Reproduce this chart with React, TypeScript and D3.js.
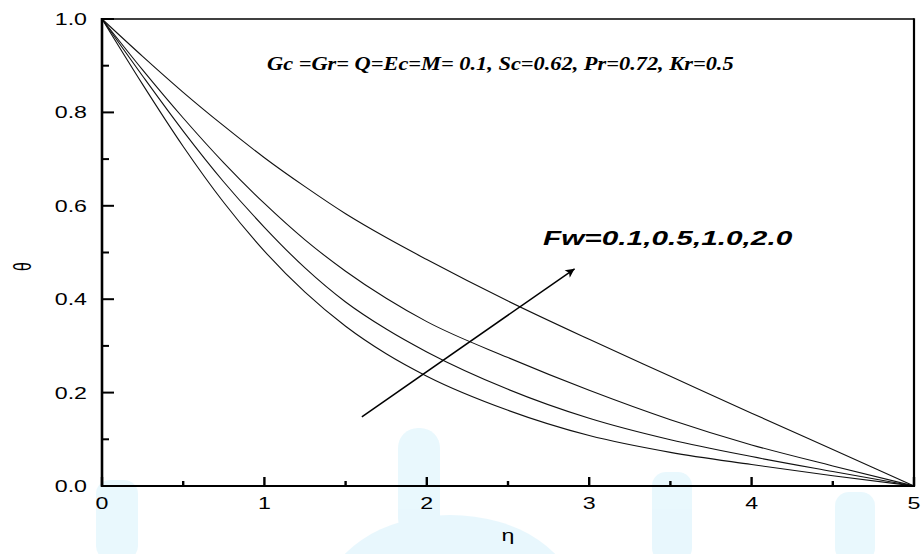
import React, { useEffect, useRef } from 'react';
import * as d3 from 'd3';

// eta samples and theta, one array per Fw value
const eta = [0, 0.25, 0.5, 0.75, 1, 1.25, 1.5, 1.75, 2, 2.5, 3, 3.5, 4, 4.5, 5];
const fw01 = [1, 0.86, 0.727, 0.607, 0.503, 0.415, 0.342, 0.283, 0.235, 0.162, 0.108, 0.072, 0.046, 0.022, 0];
const fw05 = [1, 0.878, 0.76, 0.651, 0.554, 0.467, 0.394, 0.336, 0.287, 0.207, 0.145, 0.099, 0.063, 0.031, 0];
const fw10 = [1, 0.891, 0.788, 0.692, 0.605, 0.527, 0.46, 0.402, 0.352, 0.275, 0.205, 0.142, 0.088, 0.043, 0];
const fw20 = [1, 0.92, 0.843, 0.771, 0.703, 0.641, 0.583, 0.532, 0.485, 0.396, 0.314, 0.235, 0.156, 0.078, 0];

const xTickLabels = ['0', '1', '2', '3', '4', '5'];
const yTickLabels = ['0.0', '0.2', '0.4', '0.6', '0.8', '1.0'];

const paramText = 'Gc =Gr= Q=Ec=M= 0.1, Sc=0.62, Pr=0.72, Kr=0.5';
const fwText = 'Fw=0.1,0.5,1.0,2.0';

const W = 923;
const H = 554;
const margin = { top: 19, right: 9, bottom: 68, left: 102 };
const SX = 1.45; // the figure is stretched sideways

export default function App() {
  const ref = useRef<SVGSVGElement>(null);

  useEffect(() => {
    const svg = d3.select(ref.current);
    svg.selectAll('*').remove();

    const x = d3.scaleLinear().domain([0, 5]).range([margin.left, W - margin.right]);
    const y = d3.scaleLinear().domain([0, 1]).range([H - margin.bottom, margin.top]);
    const [x0, x1] = x.range();
    const [y0, y1] = y.range();

    svg.append('rect').attr('width', W).attr('height', H).attr('fill', '#fff');

    // faint watermark behind the chart
    const wm = svg.append('g').attr('fill', '#b5e7fa').attr('opacity', 0.3);
    wm.append('ellipse').attr('cx', 450).attr('cy', 600).attr('rx', 125).attr('ry', 85);
    wm.append('rect').attr('x', 398).attr('y', 428).attr('width', 42).attr('height', 110).attr('rx', 20);
    wm.append('rect').attr('x', 96).attr('y', 480).attr('width', 42).attr('height', 80).attr('rx', 14);
    wm.append('rect').attr('x', 652).attr('y', 472).attr('width', 40).attr('height', 90).attr('rx', 14);
    wm.append('rect').attr('x', 835).attr('y', 492).attr('width', 40).attr('height', 70).attr('rx', 14);

    // curves
    const line = d3
      .line<number>()
      .x((_, i) => x(eta[i]))
      .y((d) => y(d))
      .curve(d3.curveMonotoneX);

    svg
      .append('g')
      .selectAll('path')
      .data([fw01, fw05, fw10, fw20])
      .enter()
      .append('path')
      .attr('d', (d) => line(d))
      .attr('fill', 'none')
      .attr('stroke', '#111')
      .attr('stroke-width', 1.1);

    // frame
    const frame = svg.append('g').attr('stroke', '#000');
    frame.append('line').attr('x1', x0).attr('x2', x0).attr('y1', y1 - 1).attr('y2', y0 + 1).attr('stroke-width', 2.6);
    frame.append('line').attr('x1', x0).attr('x2', x1).attr('y1', y0).attr('y2', y0).attr('stroke-width', 2);
    frame.append('line').attr('x1', x0).attr('x2', x1).attr('y1', y1).attr('y2', y1).attr('stroke-width', 1.6);
    frame.append('line').attr('x1', x1).attr('x2', x1).attr('y1', y1 - 0.8).attr('y2', y0 + 1).attr('stroke-width', 2.2);

    // ticks, pointing inward
    const ticks = svg.append('g').attr('stroke', '#000');
    x.ticks(10).forEach((t) => {
      const major = Number.isInteger(t);
      ticks
        .append('line')
        .attr('x1', x(t))
        .attr('x2', x(t))
        .attr('y1', y0)
        .attr('y2', y0 - (major ? 9 : 5))
        .attr('stroke-width', 2.4);
    });
    y.ticks(10).forEach((t) => {
      const major = Math.abs(t * 5 - Math.round(t * 5)) < 1e-6;
      ticks
        .append('line')
        .attr('x1', x0)
        .attr('x2', x0 + (major ? 12 : 7))
        .attr('y1', y(t))
        .attr('y2', y(t))
        .attr('stroke-width', 2);
    });

    const sans = 'Arial, "Liberation Sans", sans-serif';

    // tick labels
    svg
      .append('g')
      .selectAll('text')
      .data(xTickLabels)
      .enter()
      .append('text')
      .attr('transform', (d) => `translate(${x(+d)},${y0 + 23}) scale(${SX},1)`)
      .attr('text-anchor', 'middle')
      .attr('font-family', sans)
      .attr('font-size', 16)
      .text((d) => d);

    svg
      .append('g')
      .selectAll('text')
      .data(yTickLabels)
      .enter()
      .append('text')
      .attr('transform', (d) => `translate(${x0 - 15},${y(+d) + 6}) scale(${SX},1)`)
      .attr('text-anchor', 'end')
      .attr('font-family', sans)
      .attr('font-size', 16)
      .text((d) => d);

    // axis titles
    svg
      .append('text')
      .attr('transform', `translate(${(x0 + x1) / 2},${y0 + 55}) scale(${SX},1)`)
      .attr('text-anchor', 'middle')
      .attr('font-family', sans)
      .attr('font-size', 16)
      .text('η');
    svg
      .append('text')
      .attr('transform', `translate(31,${(y0 + y1) / 2 + 14}) scale(${SX},1) rotate(-90)`)
      .attr('text-anchor', 'middle')
      .attr('font-family', sans)
      .attr('font-size', 16)
      .text('θ');

    // parameter note
    svg
      .append('text')
      .attr('transform', `translate(267,70) scale(1.21,1)`)
      .attr('font-family', '"Times New Roman", "Liberation Serif", serif')
      .attr('font-weight', 'bold')
      .attr('font-style', 'italic')
      .attr('font-size', 18.5)
      .text(paramText);

    // arrow and Fw label
    svg
      .append('defs')
      .append('marker')
      .attr('id', 'head')
      .attr('viewBox', '0 0 10 10')
      .attr('refX', 10)
      .attr('refY', 5)
      .attr('markerWidth', 14)
      .attr('markerHeight', 9)
      .attr('markerUnits', 'userSpaceOnUse')
      .attr('orient', 'auto')
      .append('path')
      .attr('d', 'M0,0 L10,5 L0,10 L2.5,5 Z')
      .attr('fill', '#000');

    svg
      .append('line')
      .attr('x1', x(1.6))
      .attr('y1', y(0.148))
      .attr('x2', x(2.91))
      .attr('y2', y(0.465))
      .attr('stroke', '#000')
      .attr('stroke-width', 1.5)
      .attr('marker-end', 'url(#head)');

    svg
      .append('text')
      .attr('transform', `translate(543,245) scale(1.42,1)`)
      .attr('font-family', sans)
      .attr('font-weight', 'bold')
      .attr('font-style', 'italic')
      .attr('font-size', 21)
      .text(fwText);
  }, []);

  return (
    <svg
      ref={ref}
      width={W}
      height={H}
      style={{ position: 'absolute', left: 0, top: 0, display: 'block' }}
    />
  );
}
